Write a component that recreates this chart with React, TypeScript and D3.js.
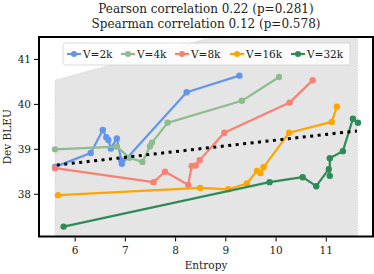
import React from 'react';
import { scaleLinear, line } from 'd3';

// entropy / dev BLEU pairs per vocabulary size
const v2kEntropy = [5.6, 6.31, 6.55, 6.62, 6.66, 6.71, 6.83, 6.92, 6.93, 8.22, 9.27];
const v2kBleu = [38.61, 38.92, 39.43, 39.27, 39.21, 39.02, 39.24, 38.75, 38.68, 40.27, 40.64];

const v4kEntropy = [5.6, 6.83, 7.08, 7.34, 7.49, 7.53, 7.84, 9.32, 10.06];
const v4kBleu = [39.0, 39.06, 38.81, 38.72, 39.07, 39.15, 39.59, 40.08, 40.61];

const v8kEntropy = [5.6, 7.56, 7.79, 8.25, 8.32, 8.4, 8.48, 8.97, 10.27, 10.73];
const v8kBleu = [38.58, 38.27, 38.5, 38.21, 38.63, 38.64, 38.76, 39.37, 40.04, 40.54];

const v16kEntropy = [5.66, 8.49, 9.05, 9.42, 9.62, 9.69, 9.75, 10.26, 11.11, 11.21];
const v16kBleu = [37.98, 38.14, 38.11, 38.24, 38.52, 38.47, 38.6, 39.37, 39.61, 39.95];

const v32kEntropy = [5.77, 9.87, 10.53, 10.8, 11.05, 11.07, 11.07, 11.33, 11.53, 11.63];
const v32kBleu = [37.28, 38.27, 38.38, 38.18, 38.56, 38.41, 38.8, 38.96, 39.68, 39.59];

const seriesNames = ['V=2k', 'V=4k', 'V=8k', 'V=16k', 'V=32k'];
const seriesColors = ['#6495ed', '#8fbc8f', '#fa8072', '#ffa500', '#2e8b57'];

// fitted trend (dotted) endpoints
const fitEntropy = [5.635, 11.61];
const fitBleu = [38.65, 39.41];

// shaded band corners
const bandEntropy = [5.6, 5.6, 11.62, 11.62];
const bandBleu = [36.0, 40.54, 42.38, 36.0];

const xTicks = [6, 7, 8, 9, 10, 11];
const yTicks = [38, 39, 40, 41];

const titleLines = ['Pearson correlation 0.22 (p=0.281)', 'Spearman correlation 0.12 (p=0.578)'];

const width = 374;
const height = 274;
const margin = { top: 37, right: 1, bottom: 37.5, left: 39 };
const innerW = width - margin.left - margin.right;
const innerH = height - margin.top - margin.bottom;
const font = '"DejaVu Serif", serif';

const zip = (xs: number[], ys: number[]) => xs.map((x, i) => [x, ys[i]] as [number, number]);

const App = () => {
  const x = scaleLinear().domain([5.28, 11.93]).range([0, innerW]);
  const y = scaleLinear().domain([37.06, 41.5]).range([innerH, 0]);
  const path = line<[number, number]>().x(d => x(d[0])).y(d => y(d[1]));

  const series = [
    zip(v2kEntropy, v2kBleu),
    zip(v4kEntropy, v4kBleu),
    zip(v8kEntropy, v8kBleu),
    zip(v16kEntropy, v16kBleu),
    zip(v32kEntropy, v32kBleu)
  ];
  const band = zip(bandEntropy, bandBleu);
  const fit = zip(fitEntropy, fitBleu);

  const legendX = [0, 54, 108, 163, 224];

  return (
    <svg width={width} height={height} style={{ position: 'absolute', left: 0, top: 0 }}>
      <rect width={width} height={height} fill="white" />
      {titleLines.map((t, i) => (
        <text key={t} x={margin.left + innerW / 2} y={13 + i * 15} textAnchor="middle"
          fontFamily={font} fontSize={12} fill="#222">{t}</text>
      ))}
      <defs>
        <clipPath id="plot">
          <rect width={innerW} height={innerH} />
        </clipPath>
      </defs>
      <g transform={`translate(${margin.left},${margin.top})`}>
        <g clipPath="url(#plot)">
          <path d={path(band) + 'Z'} fill="#e5e5e5" stroke="#c8c8c8" strokeWidth={0.8} strokeDasharray="1,1.5" />
          {series.map((pts, i) => (
            <g key={i}>
              <path d={path(pts) || ''} fill="none" stroke={seriesColors[i]} strokeWidth={2.2} strokeLinejoin="round" />
              {pts.map((p, j) => (
                <circle key={j} cx={x(p[0])} cy={y(p[1])} r={3.2} fill={seriesColors[i]} />
              ))}
            </g>
          ))}
          <path d={path(fit) || ''} fill="none" stroke="#000" strokeWidth={3} strokeDasharray="3,4.5" />
        </g>

        {/* legend */}
        <g transform="translate(24,6)">
          <rect x={0} y={0} width={287} height={22} rx={2.5} fill="white" fillOpacity={0.85} stroke="#d0d0d0" strokeWidth={0.8} />
          {seriesNames.map((name, i) => (
            <g key={name} transform={`translate(${legendX[i] + 4},11)`}>
              <line x1={0} x2={14} stroke={seriesColors[i]} strokeWidth={2.2} />
              <circle cx={7} cy={0} r={3} fill={seriesColors[i]} />
              <text x={16} y={4} fontFamily={font} fontSize={10.5} fill="#222">{name}</text>
            </g>
          ))}
        </g>

        {/* axes */}
        <rect width={innerW} height={innerH} fill="none" stroke="#000" strokeWidth={2} />
        {xTicks.map(t => (
          <g key={t} transform={`translate(${x(t)},${innerH})`}>
            <line y1={1} y2={5} stroke="#000" strokeWidth={1} />
            <text y={17} textAnchor="middle" fontFamily={font} fontSize={10.5} fill="#222">{t}</text>
          </g>
        ))}
        {yTicks.map(t => (
          <g key={t} transform={`translate(0,${y(t)})`}>
            <line x1={-1} x2={-5} stroke="#000" strokeWidth={1} />
            <text x={-8} y={4} textAnchor="end" fontFamily={font} fontSize={10.5} fill="#222">{t}</text>
          </g>
        ))}
        <text x={innerW / 2} y={innerH + 32} textAnchor="middle" fontFamily={font} fontSize={10.5} fill="#222">Entropy</text>
        <text transform={`translate(${-28},${innerH / 2}) rotate(-90)`} textAnchor="middle"
          fontFamily={font} fontSize={10.5} fill="#222">Dev BLEU</text>
      </g>
    </svg>
  );
};

export default App;
